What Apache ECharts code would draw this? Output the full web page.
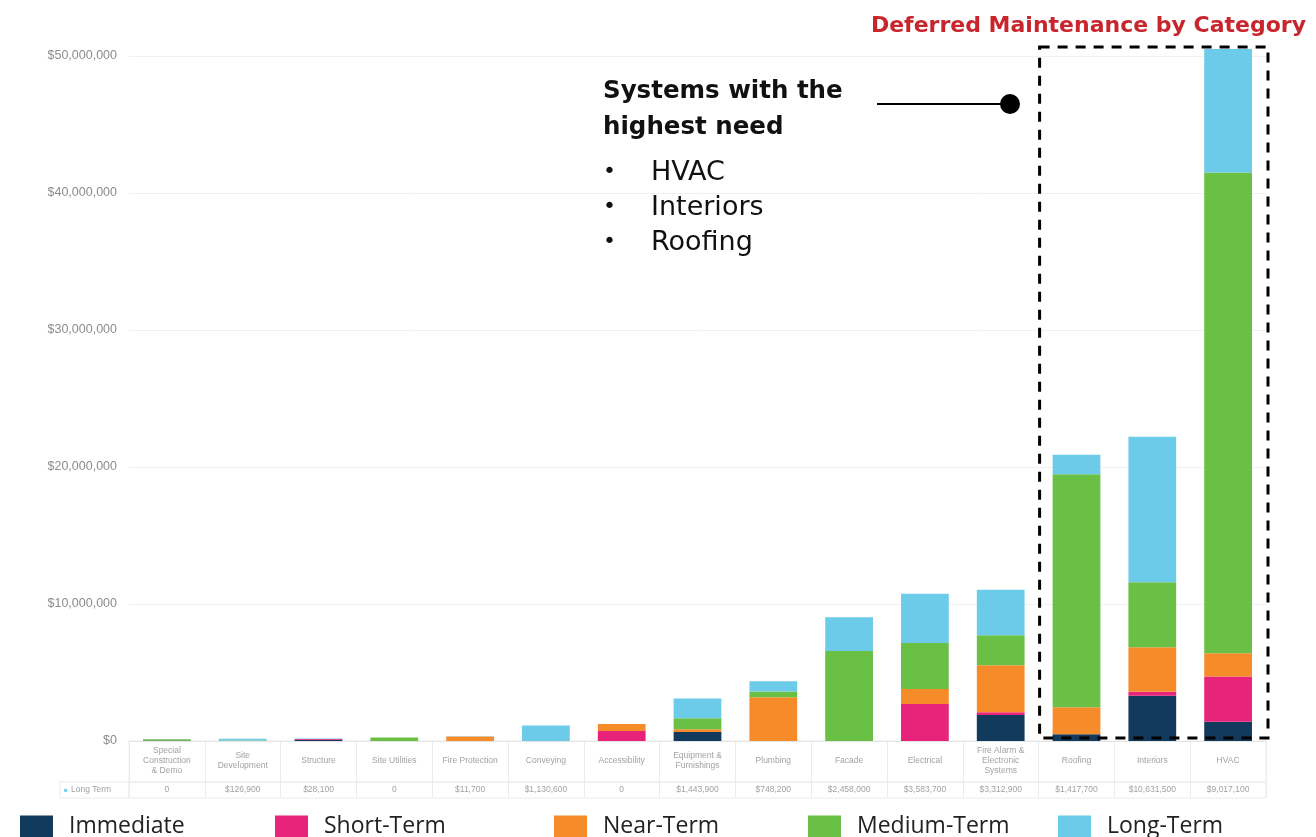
<!DOCTYPE html>
<html>
<head>
<meta charset="utf-8">
<script src="https://cdn.jsdelivr.net/npm/echarts@6/dist/echarts.min.js"></script>
<style>html,body{margin:0;padding:0;background:#fff}#main{width:1316px;height:837px}</style>
</head>
<body>
<div id="main"></div>
<script>
// categories + stacked values (USD)
var categories = ['Special\nConstruction\n& Demo', 'Site\nDevelopment', 'Structure', 'Site Utilities', 'Fire Protection', 'Conveying', 'Accessibility', 'Equipment &\nFurnishings', 'Plumbing', 'Facade', 'Electrical', 'Fire Alarm &\nElectronic\nSystems', 'Roofing', 'Interiors', 'HVAC'];
var immediate  = [40000, 0, 90000, 0, 0, 0, 0, 660000, 0, 0, 0, 1900000, 500000, 3300000, 1400000];
var shortTerm  = [0, 0, 60000, 0, 0, 0, 730000, 0, 0, 0, 2700000, 200000, 0, 300000, 3300000];
var nearTerm   = [0, 0, 0, 0, 330000, 0, 510000, 200000, 3200000, 0, 1100000, 3430000, 1970000, 3240000, 1700000];
var mediumTerm = [90000, 30000, 0, 250000, 0, 0, 0, 800000, 420000, 6570000, 3360000, 2190000, 17000000, 4740000, 35100000];
var longTerm   = [0, 126900, 28100, 0, 11700, 1130600, 0, 1443900, 748200, 2458000, 3583700, 3312900, 1417700, 10631500, 9017100];
var longTermLabels = ['0', '$126,900', '$28,100', '0', '$11,700', '$1,130,600', '0', '$1,443,900', '$748,200', '$2,458,000', '$3,583,700', '$3,312,900', '$1,417,700', '$10,631,500', '$9,017,100'];
var seriesNames = ['Immediate', 'Short-Term', 'Near-Term', 'Medium-Term', 'Long-Term'];
var highlights = ['HVAC', 'Interiors', 'Roofing'];

var colors = ['#113a5d', '#e8237a', '#f68b2a', '#6abf45', '#6dcbea'];
var seriesData = [immediate, shortTerm, nearTerm, mediumTerm, longTerm];

var chart = echarts.init(document.getElementById('main'));

var series = seriesNames.map(function (name, i) {
  return {
    name: name,
    type: 'bar',
    stack: 'total',
    barWidth: '63%',
    clip: false,
    itemStyle: { color: colors[i] },
    emphasis: { disabled: true },
    data: seriesData[i]
  };
});

var legendLeft = [20, 275, 554, 808, 1058];
var legends = seriesNames.map(function (name, i) {
  return {
    data: [name],
    left: legendLeft[i],
    top: 815,
    padding: 0,
    icon: 'rect',
    itemWidth: 33,
    itemHeight: 22,
    textStyle: { fontSize: 23, color: '#222', fontFamily: 'Open Sans', padding: [0, 0, 0, 11] }
  };
});

var tableBox = { show: true, borderColor: '#ececec', borderWidth: 1, backgroundColor: 'transparent' };
var cellFont = 'Liberation Sans Narrow, Liberation Sans';

var option = {
  animation: false,
  color: colors,
  title: {
    text: 'Deferred Maintenance by Category',
    right: 5,
    top: 10,
    textStyle: { color: '#c9252c', fontSize: 22, fontWeight: 'bold', fontFamily: 'DejaVu Sans' }
  },
  legend: legends,
  grid: [
    { left: 129, right: 50, top: 56, height: 685 },
    Object.assign({ left: 129, right: 50, top: 741, height: 41 }, tableBox),
    Object.assign({ left: 129, right: 50, top: 782, height: 16 }, tableBox),
    Object.assign({ left: 60, width: 69, top: 782, height: 16 }, tableBox)
  ],
  xAxis: [
    {
      type: 'category', gridIndex: 0, position: 'bottom', data: categories,
      axisLine: { lineStyle: { color: '#e4e4e4' } },
      axisTick: { show: false },
      axisLabel: { interval: 0, margin: 20, verticalAlign: 'middle', lineHeight: 10, fontSize: 8.5, color: '#a2a2a2', fontFamily: cellFont }
    },
    {
      type: 'category', gridIndex: 0, position: 'bottom', data: categories,
      axisLine: { show: false },
      axisTick: { show: false },
      axisLabel: {
        interval: 0, margin: 49, verticalAlign: 'middle', fontSize: 8.5, color: '#a2a2a2', fontFamily: cellFont,
        formatter: function (v, idx) { return longTermLabels[idx]; }
      }
    },
    {
      type: 'category', gridIndex: 1, data: categories,
      axisLine: { show: false }, axisTick: { show: false }, axisLabel: { show: false },
      splitLine: { show: true, interval: 0, lineStyle: { color: '#ececec' } }
    },
    {
      type: 'category', gridIndex: 2, data: categories,
      axisLine: { show: false }, axisTick: { show: false }, axisLabel: { show: false },
      splitLine: { show: true, interval: 0, lineStyle: { color: '#ececec' } }
    },
    { type: 'category', gridIndex: 3, show: false }
  ],
  yAxis: [
    {
      type: 'value', gridIndex: 0, min: 0, max: 50000000, interval: 10000000,
      axisLine: { show: false }, axisTick: { show: false },
      splitLine: { lineStyle: { color: '#f1f1f1' } },
      axisLabel: {
        margin: 12, fontSize: 12.5, color: '#8c8c8c', fontFamily: 'Liberation Sans',
        formatter: function (v) { return '$' + v.toLocaleString('en-US'); }
      }
    },
    { type: 'value', gridIndex: 1, show: false },
    { type: 'value', gridIndex: 2, show: false },
    {
      type: 'category', gridIndex: 3, data: ['Long Term'],
      axisLine: { show: false }, axisTick: { show: false },
      axisLabel: {
        inside: true, margin: 4, align: 'left',
        formatter: '{dot|■} {txt|{value}}',
        rich: {
          dot: { color: '#6dcbea', fontSize: 6 },
          txt: { color: '#a2a2a2', fontSize: 8.5, fontFamily: cellFont }
        }
      }
    }
  ],
  graphic: [
    {
      type: 'text', left: 603, top: 74,
      style: { text: 'Systems with the\nhighest need', font: 'bold 24.5px "DejaVu Sans"', fill: '#111', lineHeight: 36 }
    },
    {
      type: 'text', left: 603, top: 155,
      style: { text: highlights.map(function () { return '•'; }).join('\n'), font: '22px "DejaVu Sans"', fill: '#111', lineHeight: 35 }
    },
    {
      type: 'text', left: 651, top: 155,
      style: { text: highlights.join('\n'), font: '27px "DejaVu Sans"', fill: '#111', lineHeight: 35 }
    },
    {
      type: 'line', shape: { x1: 877, y1: 104, x2: 1010, y2: 104 },
      style: { stroke: '#000', lineWidth: 2 }
    },
    {
      type: 'circle', shape: { cx: 1010, cy: 104, r: 10 },
      style: { fill: '#000' }
    }
  ],
  series: series
};

chart.setOption(option);

// dashed box around the three highest categories
var c0 = chart.convertToPixel({ xAxisIndex: 0 }, categories[12]);
var c1 = chart.convertToPixel({ xAxisIndex: 0 }, categories[13]);
var c2 = chart.convertToPixel({ xAxisIndex: 0 }, categories[14]);
var band = c1 - c0;
var yTop = chart.convertToPixel({ yAxisIndex: 0 }, 50000000) - 9;
var yBot = chart.convertToPixel({ yAxisIndex: 0 }, 0) - 3;
chart.setOption({
  graphic: option.graphic.concat([{
    type: 'rect', z: 100,
    shape: { x: c0 - band / 2 + 1, y: yTop, width: c2 + band / 2 - (c0 - band / 2) + 1, height: yBot - yTop },
    style: { fill: 'none', stroke: '#000', lineWidth: 3, lineDash: [10, 8] }
  }])
});
</script>
</body>
</html>
